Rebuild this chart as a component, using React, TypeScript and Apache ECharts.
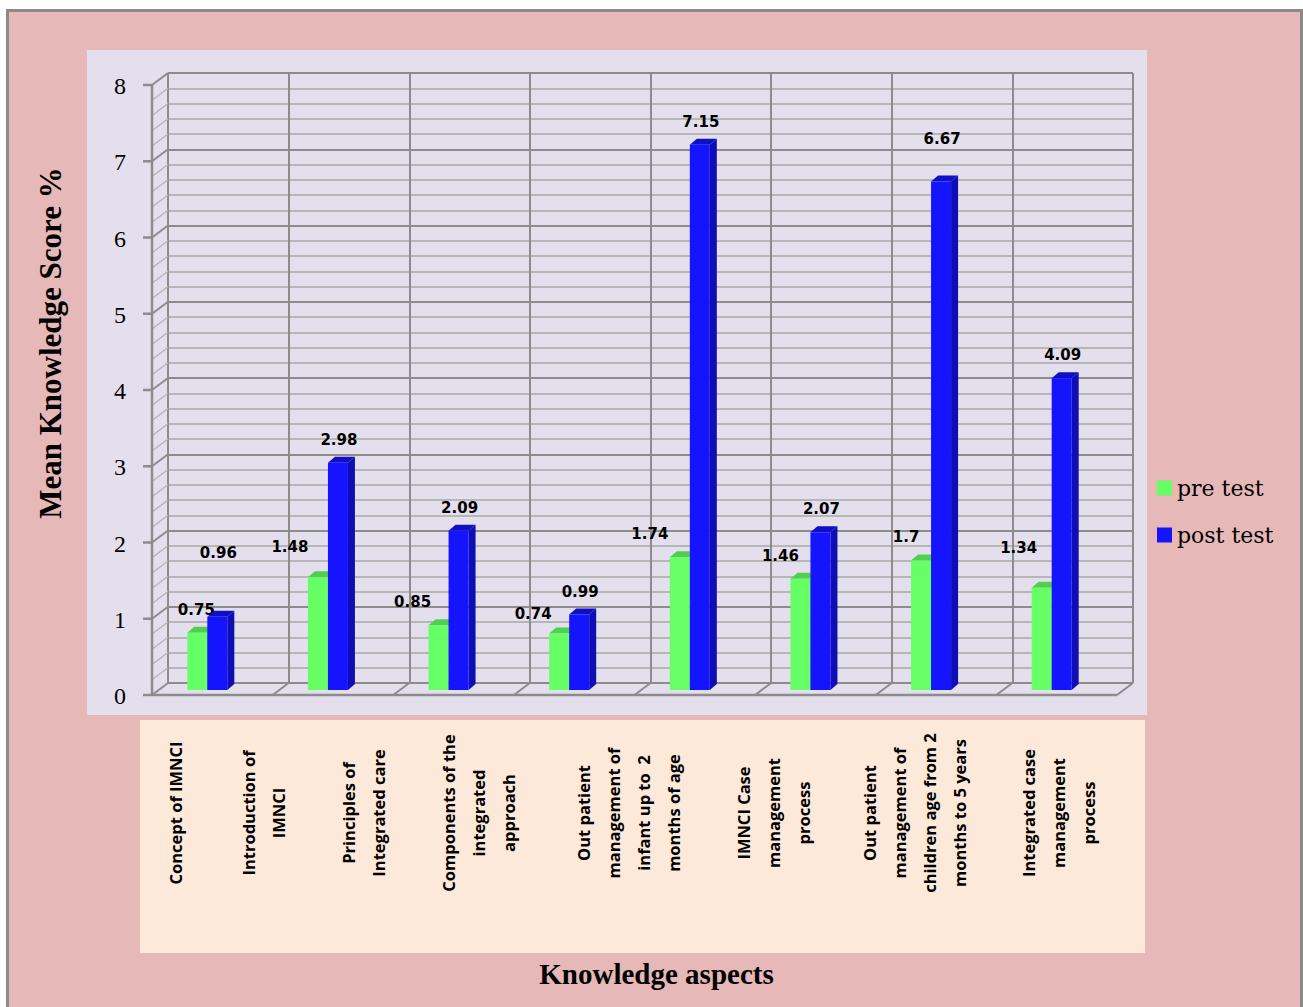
import React, { useEffect, useRef } from "react";
import * as echarts from "echarts";

// ---- data ----
const categories = [
  "Concept of IMNCI",
  "Introduction of\nIMNCI",
  "Principles of\nIntegrated care",
  "Components of the\nintegrated\napproach",
  "Out patient\nmanagement of\ninfant up to  2\nmonths of age",
  "IMNCI Case\nmanagement\nprocess",
  "Out patient\nmanagement of\nchildren age from 2\nmonths to 5 years",
  "Integrated case\nmanagement\nprocess",
];
const seriesNames = ["pre test", "post test"];
const preTest = [0.75, 1.48, 0.85, 0.74, 1.74, 1.46, 1.7, 1.34];
const postTest = [0.96, 2.98, 2.09, 0.99, 7.15, 2.07, 6.67, 4.09];
const yMin = 0;
const yMax = 8;
const yInterval = 1;

// ---- layout / style (not data) ----
const W = 1303;
const H = 1007;
const GRID = { left: 168, right: 170, top: 73, bottom: 324 };
const DX = 16; // left wall depth (px)
const DY = 12;
const BAR_W = 20;
const BAR_DX = 7;
const BAR_DY = 6;
const BAR_SHIFT_Y = 7;
const PRE_OFFSET = -41;
const POST_OFFSET = -21;
const LABEL_GAP = 23;
const preLabelNudgeX = [-1, -28, -26, -26, -30, -20, -15, -23];
const preLabelNudgeY = [0, -7, 0, 3, 0, 0, 0, -17];
const postLabelNudgeY = [-41, 0, 0, 0, 0, 0, -19, 0];
const catLabelX = [175, 263, 363, 478, 628, 773, 914, 1058];
const CAT_LABEL_Y = 813;

const COLORS = {
  pre: { front: "#66FF66", side: "#3FBF3F", top: "#4FCF4F" },
  post: { front: "#1414FF", side: "#0E0EB4", top: "#0F0FC4" },
};

function makeRender(kind: "pre" | "post") {
  const c = COLORS[kind];
  return (params: any, api: any) => {
    const i = api.value(0);
    const v = api.value(1);
    const base = api.coord([i, 0]);
    const top = api.coord([i, v]);
    const cx = base[0];
    const left = cx + (kind === "pre" ? PRE_OFFSET : POST_OFFSET);
    const right = left + BAR_W;
    const yb = base[1] + BAR_SHIFT_Y;
    const yt = top[1] + BAR_SHIFT_Y;
    const nx = kind === "pre" ? preLabelNudgeX[i] : 1;
    const ny = kind === "pre" ? preLabelNudgeY[i] : postLabelNudgeY[i];
    return {
      type: "group",
      children: [
        {
          type: "polygon",
          shape: {
            points: [
              [right, yb],
              [right, yt],
              [right + BAR_DX, yt - BAR_DY],
              [right + BAR_DX, yb - BAR_DY],
            ],
          },
          style: { fill: c.side },
        },
        {
          type: "polygon",
          shape: {
            points: [
              [left, yt],
              [left + BAR_DX, yt - BAR_DY],
              [right + BAR_DX, yt - BAR_DY],
              [right, yt],
            ],
          },
          style: { fill: c.top },
        },
        {
          type: "rect",
          shape: { x: left, y: yt, width: BAR_W, height: yb - yt },
          style: { fill: c.front },
        },
        {
          type: "text",
          x: (left + right) / 2 + nx,
          y: yt - LABEL_GAP + ny,
          style: {
            text: String(v),
            fill: "#000",
            font: 'bold 15px "DejaVu Sans"',
            align: "center",
            verticalAlign: "middle",
          },
        },
      ],
    };
  };
}

export default function App() {
  const ref = useRef<HTMLDivElement>(null);

  useEffect(() => {
    if (!ref.current) return;
    const chart = echarts.init(ref.current, undefined, { renderer: "svg" });
    const option: any = {
      animation: false,
      backgroundColor: "#ffffff",
      color: [COLORS.pre.front, COLORS.post.front],
      grid: { ...GRID, show: false },
      legend: {
        orient: "vertical",
        left: 1157,
        top: 476,
        padding: 0,
        itemWidth: 15,
        itemHeight: 15,
        itemGap: 23,
        icon: "rect",
        data: seriesNames,
        textStyle: {
          fontFamily: "DejaVu Serif",
          fontSize: 22,
          color: "#000",
          lineHeight: 24,
        },
      },
      xAxis: {
        type: "category",
        data: categories,
        boundaryGap: true,
        axisLine: { show: false },
        axisTick: { show: false },
        axisLabel: { show: false },
        splitLine: {
          show: true,
          interval: 0,
          lineStyle: { color: "#8c8c8c", width: 2 },
        },
        name: "Knowledge aspects",
        nameLocation: "middle",
        nameGap: 276,
        nameTextStyle: {
          fontFamily: "Liberation Serif",
          fontWeight: "bold",
          fontSize: 29,
          color: "#000",
          padding: [0, 0, 0, 12],
        },
      },
      yAxis: {
        type: "value",
        min: yMin,
        max: yMax,
        interval: yInterval,
        axisLine: { show: false },
        axisTick: { show: false },
        axisLabel: {
          margin: 42,
          fontFamily: "Liberation Serif",
          fontSize: 24,
          color: "#000",
          verticalAlign: "top",
          lineHeight: 26,
        },
        splitLine: { show: true, lineStyle: { color: "#8c8c8c", width: 2 } },
        minorTick: { show: false, splitNumber: 5 },
        minorSplitLine: {
          show: true,
          lineStyle: { color: "#b6b6b6", width: 2 },
        },
        name: "Mean Knowledge Score %",
        nameLocation: "middle",
        nameRotate: 90,
        nameGap: 102,
        nameTextStyle: {
          fontFamily: "Liberation Serif",
          fontWeight: "bold",
          fontSize: 31,
          color: "#000",
          padding: [0, 0, 0, 70],
        },
      },
      series: [
        {
          name: seriesNames[0],
          type: "custom",
          itemStyle: { color: COLORS.pre.front },
          renderItem: makeRender("pre"),
          data: preTest.map((v, i) => [i, v]),
          z: 3,
        },
        {
          name: seriesNames[1],
          type: "custom",
          itemStyle: { color: COLORS.post.front },
          renderItem: makeRender("post"),
          data: postTest.map((v, i) => [i, v]),
          z: 4,
        },
      ],
    };
    chart.setOption(option);

    // decorative 3D walls/floor + backgrounds + category labels
    const yPix = (v: number) => chart.convertToPixel({ yAxisIndex: 0 }, v) as number;
    const xc = (i: number) => chart.convertToPixel({ xAxisIndex: 0 }, i) as number;
    const n = categories.length;
    const band = xc(1) - xc(0);
    const x0 = xc(0) - band / 2;
    const xN = xc(n - 1) + band / 2;
    const y0 = yPix(yMin);
    const yT = yPix(yMax);
    const fx = x0 - DX;
    const els: any[] = [];
    els.push({
      type: "rect",
      z: -100,
      shape: { x: 7.5, y: 10.5, width: 1294, height: 1000 },
      style: { fill: "#E6B8B7", stroke: "#8a8a8a", lineWidth: 3 },
    });
    els.push({
      type: "rect",
      z: -99,
      shape: { x: 87, y: 50, width: 1060, height: 665 },
      style: { fill: "#E4DFEC" },
    });
    els.push({
      type: "rect",
      z: -99,
      shape: { x: 140, y: 720, width: 1005, height: 233 },
      style: { fill: "#FDE9D9" },
    });
    const steps = Math.round(((yMax - yMin) / yInterval) * 5);
    for (let k = 0; k <= steps; k++) {
      const v = yMin + (k * yInterval) / 5;
      const y = yPix(v);
      const major = k % 5 === 0;
      els.push({
        type: "line",
        z: 1,
        shape: { x1: fx, y1: y + DY, x2: x0, y2: y },
        style: { stroke: major ? "#8c8c8c" : "#b6b6b6", lineWidth: major ? 2 : 1.5 },
      });
      if (major) {
        els.push({
          type: "line",
          z: 1,
          shape: { x1: fx - 9, y1: y + DY, x2: fx, y2: y + DY },
          style: { stroke: "#8c8c8c", lineWidth: 2.5 },
        });
      }
    }
    els.push({
      type: "line",
      z: 1,
      shape: { x1: fx, y1: yT + DY, x2: fx, y2: y0 + DY },
      style: { stroke: "#8c8c8c", lineWidth: 2.5 },
    });
    els.push({
      type: "line",
      z: 1,
      shape: { x1: fx, y1: y0 + DY, x2: xN - DX, y2: y0 + DY },
      style: { stroke: "#8c8c8c", lineWidth: 2.5 },
    });
    for (let b = 1; b <= n; b++) {
      const xb = x0 + b * band;
      els.push({
        type: "line",
        z: 1,
        shape: { x1: xb - DX, y1: y0 + DY, x2: xb, y2: y0 },
        style: { stroke: "#8c8c8c", lineWidth: 2 },
      });
    }
    els.push({
      type: "line",
      z: 1,
      shape: { x1: xN, y1: yT, x2: xN, y2: y0 },
      style: { stroke: "#8c8c8c", lineWidth: 2 },
    });
    categories.forEach((c, i) => {
      els.push({
        type: "text",
        z: 5,
        x: catLabelX[i],
        y: CAT_LABEL_Y,
        rotation: Math.PI / 2,
        style: {
          text: c,
          fill: "#000",
          font: 'bold 16.5px "Open Sans"',
          lineHeight: 30,
          align: "center",
          verticalAlign: "middle",
        },
      });
    });
    chart.setOption({ graphic: { elements: els } });

    return () => chart.dispose();
  }, []);

  return (
    <div
      ref={ref}
      style={{ position: "fixed", left: 0, top: 0, width: W, height: H }}
    />
  );
}
